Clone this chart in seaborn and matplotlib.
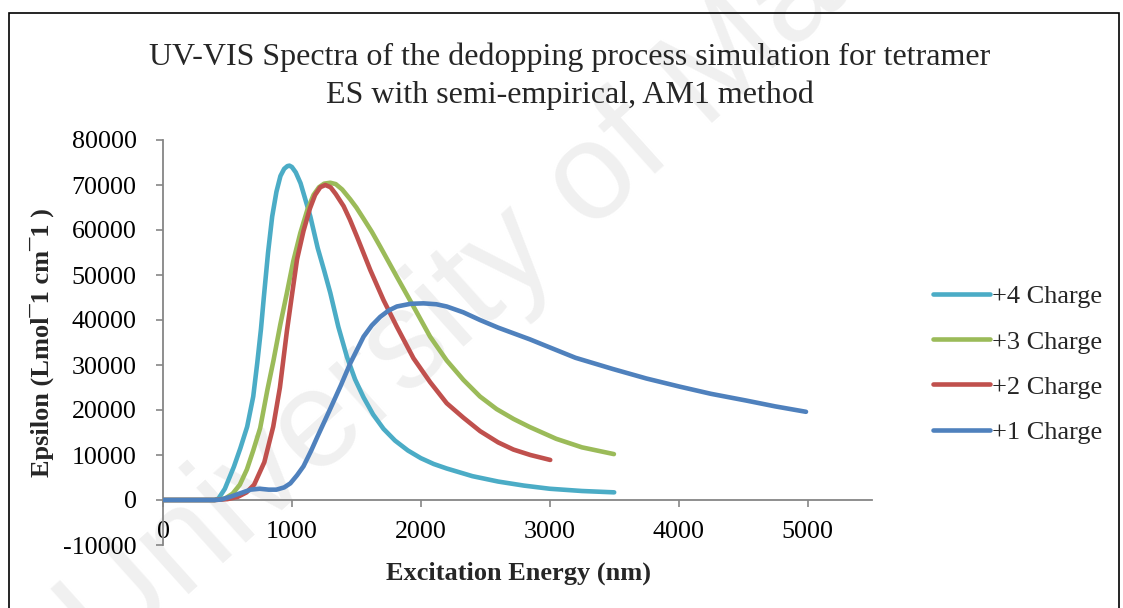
import matplotlib
matplotlib.use("Agg")
import matplotlib.pyplot as plt
from matplotlib.patches import Rectangle
import seaborn as sns
import pandas as pd

# ---- data ----
series_names = ["+4 Charge", "+3 Charge", "+2 Charge", "+1 Charge"]
series_colors = ["#4BACC6", "#9BBB59", "#C0504D", "#4F81BD"]

x_plus4 = [0, 200, 400, 430, 480, 550, 600, 653, 700, 731, 760, 782, 815, 847, 880, 911,
           940, 965, 981, 1000, 1030, 1067, 1100, 1143, 1200, 1250, 1298, 1360, 1427, 1490,
           1556, 1630, 1711, 1800, 1900, 2000, 2100, 2201, 2400, 2600, 2800, 3000, 3250, 3500]
y_plus4 = [0, 0, 0, 300, 2500, 7400, 11500, 16300, 23000, 30400, 38000, 45000, 55000, 63000,
           68500, 72000, 73600, 74200, 74300, 74000, 72800, 70400, 67200, 63000, 56000, 51000,
           46000, 38500, 31800, 26800, 22800, 19000, 15800, 13200, 11000, 9300, 8000, 7000,
           5300, 4100, 3200, 2500, 2000, 1700]

x_plus3 = [0, 200, 400, 480, 540, 596, 651, 700, 754, 810, 857, 910, 961, 1010, 1065, 1120,
           1168, 1210, 1250, 1298, 1340, 1390, 1453, 1500, 1556, 1620, 1685, 1814, 1943, 2072,
           2201, 2330, 2459, 2588, 2720, 2846, 3050, 3250, 3498]
y_plus3 = [0, 0, 0, 300, 1400, 3400, 6800, 11000, 16000, 24500, 31000, 39000, 46000, 53000,
           59300, 64500, 67800, 69500, 70300, 70500, 70200, 69000, 66800, 65000, 62500, 59600,
           56300, 49600, 43000, 36300, 31000, 26700, 23000, 20200, 18000, 16200, 13600, 11700,
           10200]

x_plus2 = [0, 200, 400, 500, 580, 648, 707, 786, 855, 907, 961, 1000, 1040, 1090, 1140, 1180,
           1220, 1259, 1300, 1340, 1401, 1450, 1505, 1608, 1711, 1814, 1943, 2072, 2201, 2330,
           2460, 2600, 2719, 2850, 3004]
y_plus2 = [0, 0, 0, 200, 700, 1700, 3400, 8400, 16300, 25000, 37500, 45500, 53500, 59800,
           64800, 67800, 69500, 70000, 69500, 68000, 65300, 62300, 58500, 51100, 44400, 38500,
           31500, 26200, 21500, 18300, 15300, 12800, 11200, 10000, 8900]

x_plus1 = [0, 200, 400, 450, 520, 600, 680, 750, 820, 880, 940, 988, 1040, 1090, 1150, 1200,
           1250, 1298, 1380, 1453, 1556, 1620, 1685, 1750, 1814, 1920, 2020, 2120, 2201, 2330,
           2459, 2600, 2846, 2975, 3200, 3491, 3750, 4007, 4250, 4524, 4750, 4988]
y_plus1 = [0, 0, 0, 100, 700, 1500, 2300, 2500, 2300, 2300, 2800, 3700, 5500, 7500, 11000,
           14200, 17300, 20300, 25500, 30400, 36300, 38800, 40700, 42100, 43000, 43600, 43700,
           43500, 43000, 41700, 40000, 38300, 35700, 34200, 31600, 29100, 27000, 25200, 23600,
           22100, 20800, 19600]

x_ticks = [0, 1000, 2000, 3000, 4000, 5000]
y_ticks = [-10000, 0, 10000, 20000, 30000, 40000, 50000, 60000, 70000, 80000]

title_text = ("UV-VIS Spectra of the dedopping process simulation for tetramer\n"
              "ES with semi-empirical, AM1 method")
x_label = "Excitation Energy (nm)"
y_label = "Epsilon (Lmol\u00af1 cm\u00af1 )"
watermark = "University of Malaya"

# ---- build long table ----
frames = []
for name, xs, ys in zip(series_names,
                        [x_plus4, x_plus3, x_plus2, x_plus1],
                        [y_plus4, y_plus3, y_plus2, y_plus1]):
    frames.append(pd.DataFrame({"x": xs, "y": ys, "series": name}))
df = pd.concat(frames, ignore_index=True)

sns.set_theme(style="white")
plt.rcParams["font.family"] = ["Liberation Serif", "DejaVu Serif"]

W, H = 1123, 608
fig = plt.figure(figsize=(W / 100, H / 100), dpi=100)
fig.patch.set_facecolor("white")

# faint watermark (behind everything)
fig.text(548 / W, 1 - 222 / H, watermark, rotation=42, fontsize=100,
         family=["Liberation Sans", "DejaVu Sans"], color="#f0f0f0",
         ha="center", va="center", zorder=-5, rotation_mode="anchor")

left, right, top, bottom = 163, 872, 140, 545
ax = fig.add_axes([left / W, 1 - bottom / H, (right - left) / W, (bottom - top) / H])
ax.patch.set_alpha(0)

sns.lineplot(data=df, x="x", y="y", hue="series", hue_order=series_names,
             palette=series_colors, linewidth=3.3, sort=False, estimator=None,
             ax=ax, legend=True)
for ln in ax.get_lines():
    ln.set_solid_capstyle("round")
    ln.set_solid_joinstyle("round")

ax.set_xlim(0, 5500)
ax.set_ylim(-10000, 80000)
ax.set_xticks(x_ticks)
ax.set_yticks(y_ticks)
ax.set_xticklabels([str(v) for v in x_ticks])
ax.set_yticklabels([str(v) for v in y_ticks])

spine_col = "#868686"
for s in ["top", "right"]:
    ax.spines[s].set_visible(False)
ax.spines["bottom"].set_position(("data", 0))
for s in ["left", "bottom"]:
    ax.spines[s].set_color(spine_col)
    ax.spines[s].set_linewidth(1.3)
    ax.spines[s].set_zorder(1)

ax.tick_params(axis="x", direction="out", length=5, width=1.2, color=spine_col,
               pad=10, labelsize=18.7, labelcolor="black", bottom=True)
ax.tick_params(axis="y", direction="out", length=5, width=1.2, color=spine_col,
               pad=14, labelsize=18.7, labelcolor="black", left=True)
ax.grid(False)

ax.set_xlabel(x_label, fontsize=19, fontweight="bold")
ax.set_ylabel(y_label, fontsize=19, fontweight="bold")
ax.xaxis.set_label_coords((518 - left) / (right - left), (bottom - 562) / (bottom - top))
ax.yaxis.set_label_coords((54 - left) / (right - left), 0.5)

fig.text(570 / W, 1 - 42 / H, title_text, fontsize=23, ha="center", va="top",
         multialignment="center", linespacing=1.38)

handles, labels = ax.get_legend_handles_labels()
ax.get_legend().remove()
leg = fig.legend(handles, labels, loc="upper left",
                 bbox_to_anchor=(933 / W, 1 - 285 / H), frameon=False,
                 fontsize=19, handlelength=2.15, handletextpad=0.1,
                 labelspacing=0.82, borderpad=0, borderaxespad=0)
for lh in leg.get_lines():
    lh.set_linewidth(3.3)
    lh.set_solid_capstyle("round")

# outer frame
fig.patches.append(Rectangle((8.5 / W, -0.05), (1119 - 8.5) / W, 1.05 - 13 / H,
                             transform=fig.transFigure, fill=False,
                             edgecolor="black", linewidth=1.2, zorder=10))

fig.savefig("out.png", dpi=100, facecolor="white")
